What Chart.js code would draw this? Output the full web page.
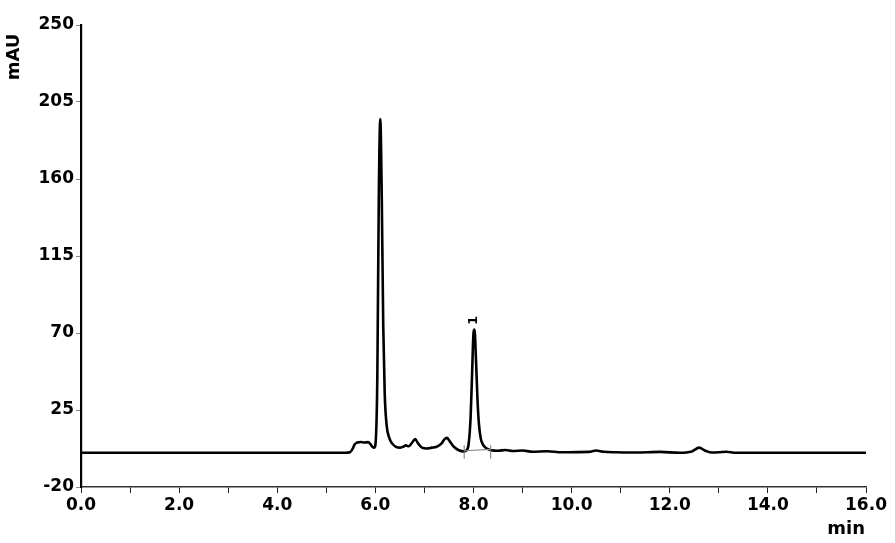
<!DOCTYPE html>
<html>
<head>
<meta charset="utf-8">
<script src="https://cdn.jsdelivr.net/npm/chart.js@4.4.1/dist/chart.umd.min.js"></script>
<style>
html,body{margin:0;padding:0;background:#fff;}
#wrap{width:895px;height:543px;position:relative;}
</style>
</head>
<body>
<div id="wrap"><canvas id="c" width="895" height="543"></canvas></div>
<script>
// ---- data ----
const times = [0,1,2,3,4,5,5.4,5.48,5.53,5.58,5.63,5.7,5.78,5.85,5.9,5.94,5.98,6.01,6.04,6.07,6.1,6.13,6.16,6.19,6.23,6.28,6.34,6.42,6.5,6.57,6.62,6.68,6.75,6.81,6.87,6.95,7.05,7.15,7.25,7.35,7.41,7.46,7.52,7.6,7.7,7.8,7.86,7.9,7.94,7.97,8.0,8.02,8.05,8.08,8.11,8.15,8.2,8.27,8.36,8.5,8.65,8.8,9.0,9.2,9.5,9.8,10.1,10.35,10.5,10.65,10.9,11.3,11.8,12.2,12.45,12.6,12.72,12.85,13.0,13.15,13.35,14,15,16];
const signal = [0,0,0,0,0,0,0,0.3,2,5,6,6.3,6,6.2,5,3.5,3,8,45,150,195,150,75,35,16,9,5.5,3.5,3,3.6,4.3,3.8,6,8,5.5,3,2.5,3,3.5,5.5,8,8.7,6.5,3.5,1.5,0.8,1.5,5,20,45,70,72,55,32,17,8,4.5,2.5,1.5,1.2,1.6,1,1.3,0.6,0.9,0.3,0.4,0.5,1.3,0.6,0.3,0.2,0.5,0,0.8,3,1.2,0.2,0.3,0.6,0,0,0,0];
const baselineTimes = [7.81, 8.35];
const baselineValues = [1.2, 2];
const markerRange = [-3.5, 4.5];
const peakLabels = ['1'];
const peakTimes = [8.01];
const peakValues = [72];
const yTicks = [-20, 25, 70, 115, 160, 205, 250];
const xTicks = [0,1,2,3,4,5,6,7,8,9,10,11,12,13,14,15,16];
const xTitle = 'min';
const yTitle = 'mAU';

// ---- build ----
const mainData = times.map((t,i)=>({x:t,y:signal[i]}));
const blData = baselineTimes.map((t,i)=>({x:t,y:baselineValues[i]}));
const markerSets = baselineTimes.map(t=>({
  data: markerRange.map(v=>({x:t,y:v})),
  borderColor:'#777', borderWidth:1, pointRadius:0, showLine:true, fill:false
}));

const FONT = '"DejaVu Sans", sans-serif';

const overlay = {
  id:'overlay',
  afterDatasetsDraw(chart){
    const ctx = chart.ctx, xs = chart.scales.x, ys = chart.scales.y;
    ctx.save();
    ctx.fillStyle = '#000';
    ctx.font = 'bold 13px ' + FONT;
    peakLabels.forEach((lab,i)=>{
      const px = xs.getPixelForValue(peakTimes[i]);
      const py = ys.getPixelForValue(peakValues[i]);
      ctx.save();
      ctx.translate(px, py - 9);
      ctx.rotate(-Math.PI/2);
      ctx.textAlign='center'; ctx.textBaseline='middle';
      ctx.fillText(lab, 0, 0);
      ctx.restore();
    });
    // axis titles
    ctx.font = 'bold 18px ' + FONT;
    ctx.textAlign='right'; ctx.textBaseline='middle';
    ctx.fillText(xTitle, chart.chartArea.right - 1, 529);
    ctx.save();
    ctx.translate(14, 57);
    ctx.rotate(-Math.PI/2);
    ctx.textAlign='center'; ctx.textBaseline='middle';
    ctx.fillText(yTitle, 0, 0);
    ctx.restore();
    ctx.restore();
  }
};

new Chart(document.getElementById('c'), {
  type:'scatter',
  data:{
    datasets:[
      {data: blData, borderColor:'#888', borderWidth:1.2, pointRadius:0, showLine:true, fill:false},
      ...markerSets,
      {data: mainData, borderColor:'#000', borderWidth:2.6, pointRadius:0, showLine:true, fill:false,
       cubicInterpolationMode:'monotone'}
    ]
  },
  options:{
    responsive:false, animation:false,
    layout:{padding:{top:25, right:29, left:0, bottom:0}},
    plugins:{legend:{display:false}, tooltip:{enabled:false}},
    scales:{
      x:{
        type:'linear', min:0, max:16,
        afterBuildTicks(s){ s.ticks = xTicks.map(v=>({value:v})); },
        afterFit(s){ s.height = 56; },
        ticks:{
          autoSkip:false, maxRotation:0, padding:2, color:'#000',
          font:{family:FONT, weight:'bold', size:17},
          callback(v){ return (v % 2 === 0) ? Number(v).toFixed(1) : ''; }
        },
        grid:{drawOnChartArea:false, drawTicks:true, tickLength:6, color:'#222', tickColor:'#222', tickWidth:1},
        border:{display:true, color:'#333', width:1.5}
      },
      y:{
        type:'linear', min:-20, max:250,
        afterBuildTicks(s){ s.ticks = yTicks.map(v=>({value:v})); },
        afterFit(s){ s.width = 81; },
        ticks:{
          autoSkip:false, padding:2, color:'#000',
          font:{family:FONT, weight:'bold', size:17}
        },
        grid:{drawOnChartArea:false, drawTicks:true, tickLength:5, color:'#888', tickColor:'#888', tickWidth:1},
        border:{display:true, color:'#000', width:2.2}
      }
    }
  },
  plugins:[overlay]
});
</script>
</body>
</html>
